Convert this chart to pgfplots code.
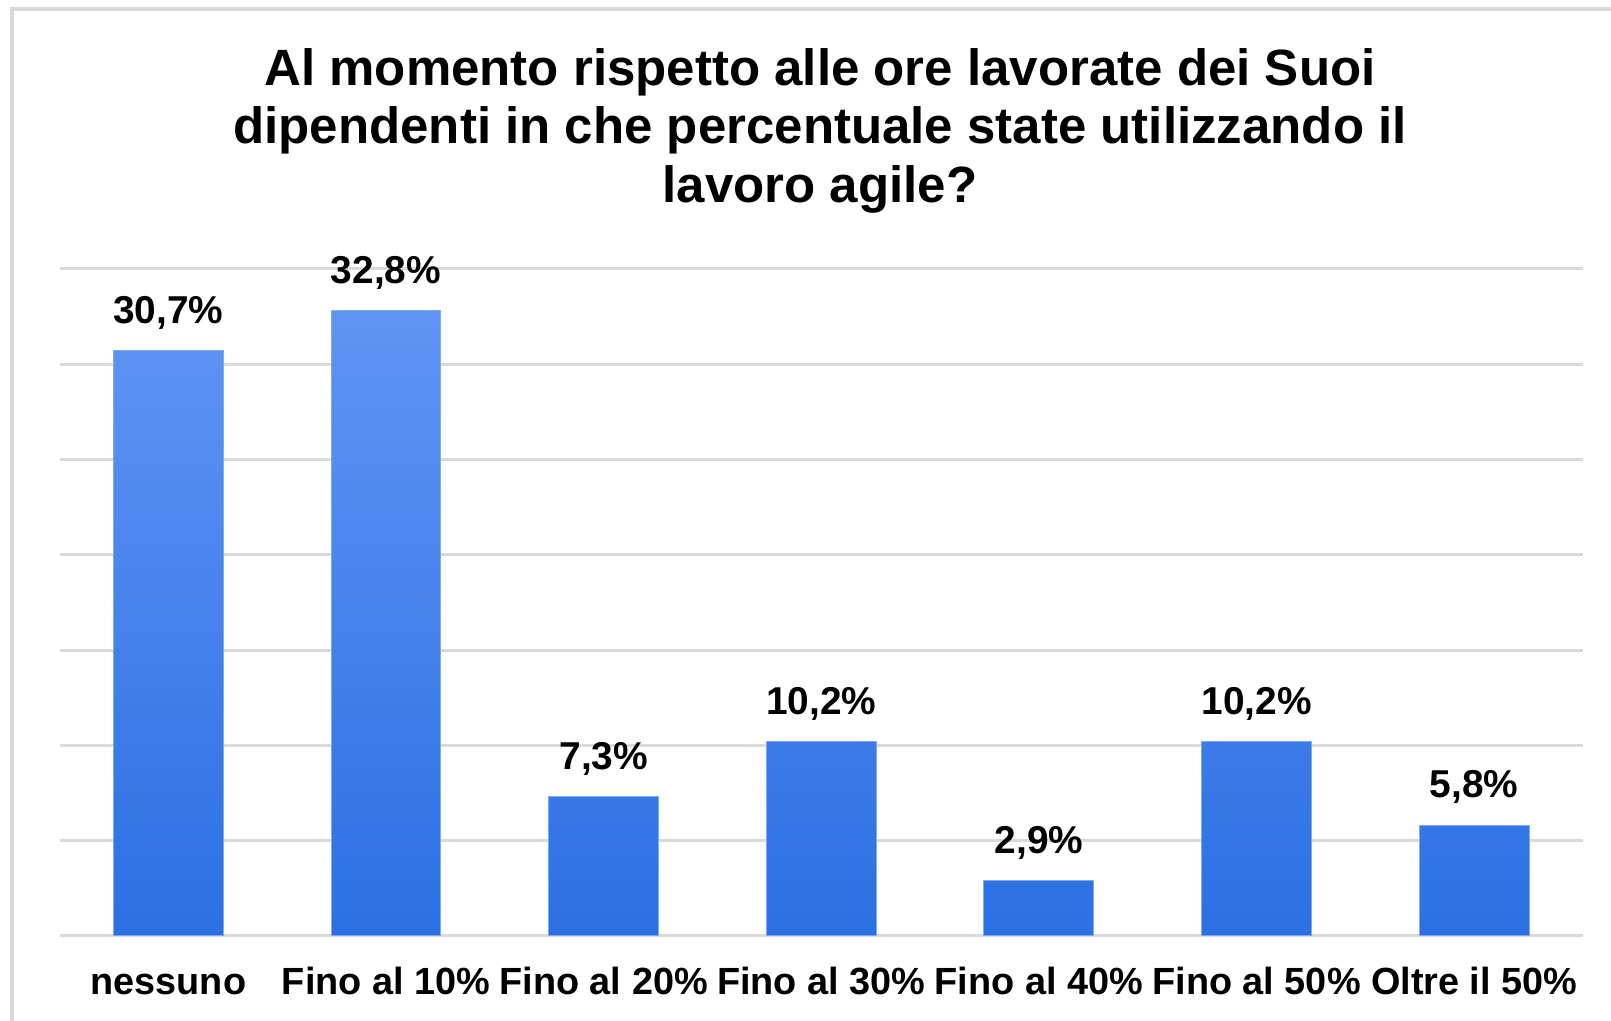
\documentclass[border=0pt]{standalone}
\usepackage{pgfplots}
\pgfplotsset{compat=1.18}
\usepackage{fontspec}
\setmainfont{Liberation Sans}
\definecolor{bartop}{HTML}{6094F4}
\definecolor{barmid}{HTML}{3D88FC}
\definecolor{barbot}{HTML}{2B70E2}
\definecolor{barborder}{HTML}{7FA8F5}
\definecolor{gridgray}{HTML}{DADADA}
\definecolor{framegray}{HTML}{D9D9D9}
\begin{document}
\begin{tikzpicture}[x=1bp,y=1bp]
\path[use as bounding box] (0,0) rectangle (805.5,510.5);
\draw[line width=2bp, color=framegray] (6,-5) -- (6,506) -- (812,506);
\node[anchor=base, inner sep=0pt, font=\bfseries\fontsize{25.6}{29}\selectfont] at (410,467.5) {Al momento rispetto alle ore lavorate dei Suoi};
\node[anchor=base, inner sep=0pt, font=\bfseries\fontsize{25.6}{29}\selectfont] at (410,438.5) {dipendenti in che percentuale state utilizzando il};
\node[anchor=base, inner sep=0pt, font=\bfseries\fontsize{25.6}{29}\selectfont] at (410,409) {lavoro agile?};
\begin{axis}[
  at={(29.8bp,42.5bp)}, anchor=south west,
  scale only axis, width=761.7bp, height=333.5bp,
  xmin=-0.5, xmax=6.5, ymin=0, ymax=35,
  ybar, bar width=0.505,
  ytick={0,5,...,35}, yticklabels={},
  xtick={0,...,6},
  xticklabels={nessuno,{Fino al 10\%},{Fino al 20\%},{Fino al 30\%},{Fino al 40\%},{Fino al 50\%},{Oltre il 50\%}},
  major tick length=0pt,
  axis line style={draw=none},
  ymajorgrids,
  grid style={line width=1.5bp, color=gridgray},
  xticklabel style={font=\bfseries\fontsize{19}{23}\selectfont, anchor=base, yshift=-29.5bp, inner sep=0pt},
  nodes near coords={\pgfmathprintnumber[fixed,fixed zerofill,precision=1,use comma,assume math mode=true]{\pgfplotspointmeta}\%},
  every node near coord/.append style={font=\bfseries\fontsize{19.5}{23}\selectfont, anchor=base, yshift=13.75bp, inner sep=0pt, color=black},
]
\addplot[draw=barborder, line width=0.5bp, top color=bartop, middle color=barmid, bottom color=barbot]
  coordinates {(0,30.7) (1,32.8) (2,7.3) (3,10.2) (4,2.9) (5,10.2) (6,5.8)};
\end{axis}
\end{tikzpicture}
\end{document}
